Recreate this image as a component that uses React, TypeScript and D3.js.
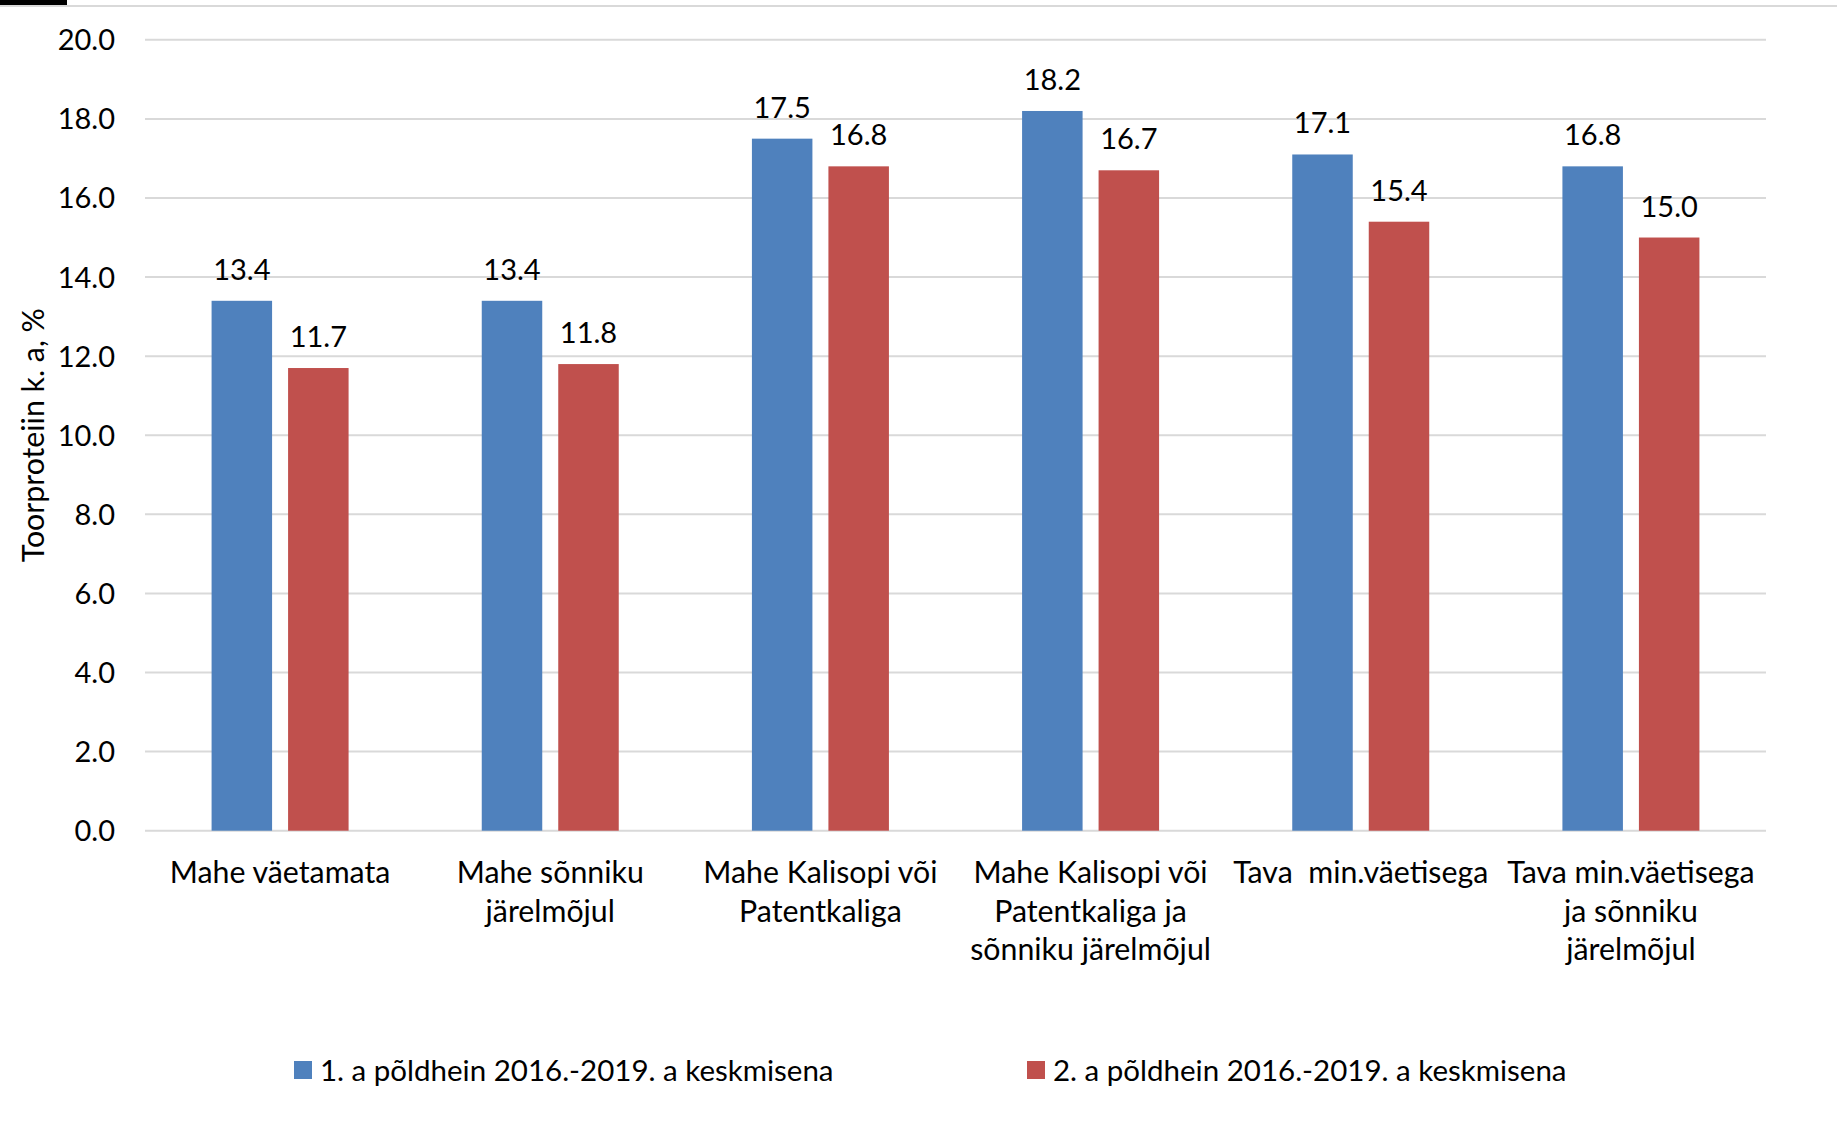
import React from "react";
import * as d3 from "d3";

const categories: string[][] = [
  ["Mahe väetamata"],
  ["Mahe sõnniku", "järelmõjul"],
  ["Mahe Kalisopi või", "Patentkaliga"],
  ["Mahe Kalisopi või", "Patentkaliga ja", "sõnniku järelmõjul"],
  ["Tava\u00a0\u00a0min.väetisega"],
  ["Tava min.väetisega", "ja sõnniku", "järelmõjul"],
];
const series1 = [13.4, 13.4, 17.5, 18.2, 17.1, 16.8];
const series2 = [11.7, 11.8, 16.8, 16.7, 15.4, 15.0];
const seriesNames = [
  "1. a põldhein 2016.-2019. a keskmisena",
  "2. a põldhein 2016.-2019. a keskmisena",
];
const yTicks = [0, 2, 4, 6, 8, 10, 12, 14, 16, 18, 20];
const yTitle = "Toorproteiin k. a, %";

const W = 1837;
const H = 1123;
const FONT = "Lato, 'Open Sans', sans-serif";
const FS_NUM = 29;
const FS_TXT = 30.3;
const FS_LEG = 29.5;

export default function App() {
  const x0 = d3
    .scaleBand<number>()
    .domain(categories.map((_, i) => i))
    .range([145, 1766]);
  const y = d3.scaleLinear().domain([0, 20]).range([830.7, 39.8]);
  const barW = 60.5;
  const gap = 16;
  const colors = ["#4F81BD", "#C0504D"];
  const seriesData = [series1, series2];

  return (
    <svg
      width={W}
      height={H}
      style={{ position: "absolute", left: 0, top: 0, background: "#fff" }}
      fontFamily={FONT}
    >
      <rect x={0} y={0} width={W} height={H} fill="#fff" />
      <line x1={0} x2={W} y1={6} y2={6} stroke="#d9d9d9" strokeWidth={2} />
      <rect x={0} y={0} width={67} height={5} fill="#000" />
      {yTicks.map((t) => (
        <g key={t}>
          <line
            x1={145}
            x2={1766}
            y1={y(t)}
            y2={y(t)}
            stroke="#d9d9d9"
            strokeWidth={2}
          />
          <text
            x={115}
            y={y(t)}
            dy="0.36em"
            textAnchor="end"
            fontSize={FS_NUM}
            fill="#000"
          >
            {t.toFixed(1)}
          </text>
        </g>
      ))}
      <text
        transform={`translate(33,${(y(0) + y(20)) / 2}) rotate(-90)`}
        textAnchor="middle"
        dy="0.36em"
        fontSize={FS_TXT}
        fill="#000"
      >
        {yTitle}
      </text>
      {categories.map((lines, i) => {
        const cx = (x0(i) as number) + x0.bandwidth() / 2;
        return (
          <g key={i}>
            {seriesData.map((s, k) => {
              const bx = k === 0 ? cx - gap / 2 - barW : cx + gap / 2;
              return (
                <g key={k}>
                  <rect
                    x={bx}
                    y={y(s[i])}
                    width={barW}
                    height={y(0) - y(s[i])}
                    fill={colors[k]}
                  />
                  <text
                    x={bx + barW / 2}
                    y={y(s[i]) - 21}
                    textAnchor="middle"
                    fontSize={FS_NUM}
                    fill="#000"
                  >
                    {s[i].toFixed(1)}
                  </text>
                </g>
              );
            })}
            {lines.map((ln, j) => (
              <text
                key={j}
                x={cx}
                y={872 + j * 38.7}
                dy="0.36em"
                textAnchor="middle"
                fontSize={FS_TXT}
                fill="#000"
                style={{ whiteSpace: "pre" }}
              >
                {ln}
              </text>
            ))}
          </g>
        );
      })}
      {seriesNames.map((nm, k) => {
        const lx = k === 0 ? 294 : 1027;
        return (
          <g key={k}>
            <rect x={lx} y={1061} width={18} height={18} fill={colors[k]} />
            <text x={lx + 26} y={1070} dy="0.36em" fontSize={FS_LEG} fill="#000">
              {nm}
            </text>
          </g>
        );
      })}
    </svg>
  );
}
